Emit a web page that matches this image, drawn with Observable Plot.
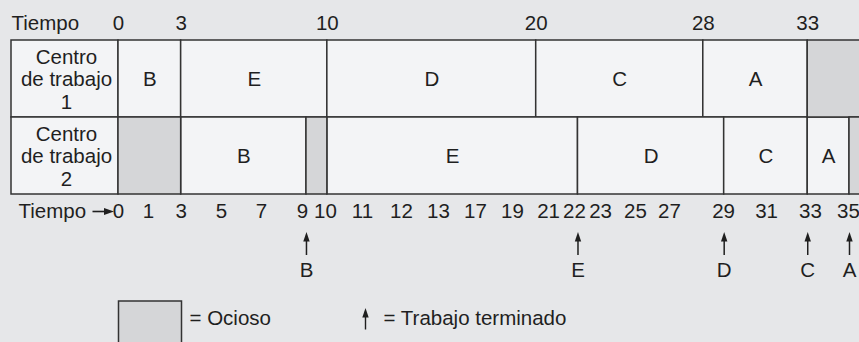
<!DOCTYPE html>
<html><head><meta charset="utf-8">
<script src="https://cdn.jsdelivr.net/npm/d3@7"></script>
<script src="https://cdn.jsdelivr.net/npm/@observablehq/plot@0.6"></script>
<style>
html,body{margin:0;padding:0;background:#e6e7e9;}
#chart svg{display:block;overflow:hidden;}
</style></head><body><div id="chart"></div>
<script>
// ---- data ----
const workCenters = ["Centro\nde trabajo\n1", "Centro\nde trabajo\n2"];
const wc1Jobs  = ["B", "E", "D", "C", "A", ""];      // "" = ocioso
const wc1Start = [0, 3, 10, 20, 28, 33];
const wc1End   = [3, 10, 20, 28, 33, 36];
const wc2Jobs  = ["", "B", "", "E", "D", "C", "A", ""];
const wc2Start = [0, 3, 9, 10, 22, 29, 33, 35];
const wc2End   = [3, 9, 10, 22, 29, 33, 35, 36];
const topTicks = [0, 3, 10, 20, 28, 33];
const bottomTickLabels = ["0","1","3","5","7","9","10","11","12","13","17","19","21","22","23","25","27","29","31","33","35"];
const bottomTickAt = [0, 1.44, 3, 4.93, 6.85, 8.81, 9.91, 11.68, 13.55, 15.32, 17.09, 18.86, 20.59, 21.83, 23.08, 24.75, 26.38, 28.97, 31.03, 33.13, 34.95];
const finishedJobs = ["B", "E", "D", "C", "A"];
const finishedAt = [9, 22, 29, 33, 35];
const axisLabelTop = "Tiempo";
const axisLabelBottom = "Tiempo";
const legendLabels = ["= Ocioso", "= Trabajo terminado"];

// ---- build ----
const W = 859, H = 342;
const cells = [
  ...wc1Jobs.map((j, i) => ({wc: workCenters[0], job: j, start: wc1Start[i], end: wc1End[i]})),
  ...wc2Jobs.map((j, i) => ({wc: workCenters[1], job: j, start: wc2Start[i], end: wc2End[i]}))
];
const ticksBottom = bottomTickLabels.map((t, i) => ({label: t, at: bottomTickAt[i]}));
const finished = finishedJobs.map((j, i) => ({job: j, t: finishedAt[i]}));

const INK = "#1f1f1f", LINE = "#333333", CELL = "#f3f4f6", IDLE = "#d5d6d8";
const FONT = 20.5;
const arrowHead = {draw(ctx) { ctx.moveTo(0, -4.5); ctx.lineTo(3.2, 5); ctx.lineTo(-3.2, 5); ctx.closePath(); }};
const arrowRight = {draw(ctx) { ctx.moveTo(5, 0); ctx.lineTo(-5, -3.5); ctx.lineTo(-5, 3.5); ctx.closePath(); }};
const T = {frameAnchor: "top", lineAnchor: "middle", fontSize: FONT, fill: INK};
const TL = {frameAnchor: "top-left", lineAnchor: "middle", textAnchor: "start", fontSize: FONT, fill: INK};

const plot = Plot.plot({
  width: W, height: H,
  marginTop: 0, marginRight: 0, marginBottom: 0, marginLeft: 0,
  style: {background: "#e6e7e9", fontFamily: "'Liberation Sans', Arial, Helvetica, sans-serif", fontSize: "20px", color: INK},
  x: {domain: [0, 35], range: [118, 849], axis: null},
  y: {type: "band", domain: workCenters, range: [39.5, 194.5], padding: 0, axis: null},
  marks: [
    // label column
    Plot.barX(workCenters, {x1: 0, x2: 0, y: d => d, insetLeft: -107, fill: CELL, stroke: LINE, strokeWidth: 1.5}),
    // job cells
    Plot.barX(cells, {filter: d => d.job, x1: "start", x2: "end", y: "wc", fill: CELL, stroke: LINE, strokeWidth: 1.5}),
    // idle cells
    Plot.barX(cells, {filter: d => !d.job, x1: "start", x2: "end", y: "wc", fill: IDLE, stroke: LINE, strokeWidth: 1.5}),
    // row labels
    Plot.text(workCenters, {y: d => d, text: d => d, frameAnchor: "left", dx: 66, textAnchor: "middle", lineAnchor: "middle", lineHeight: 1.1, fontSize: FONT, fill: INK}),
    // job letters
    Plot.text(cells, {filter: d => d.job, x: d => (d.start + d.end) / 2, y: "wc", text: "job", fontSize: FONT, fill: INK}),
    // top time axis
    Plot.text([axisLabelTop], {...TL, text: d => d, dx: 11, dy: 22.5}),
    Plot.text(topTicks, {...T, x: d => d, text: d => String(d), dy: 22.5}),
    // bottom time axis
    Plot.text([axisLabelBottom], {...TL, text: d => d, dx: 18, dy: 211}),
    Plot.frame({fill: INK, stroke: "none", insetLeft: 92, insetRight: W - 106, insetTop: 210.2, insetBottom: H - 211.8}),
    Plot.dot([0], {frameAnchor: "top-left", dx: 108.5, dy: 211, symbol: arrowRight, fill: INK, stroke: "none"}),
    Plot.text(ticksBottom, {...T, x: "at", text: "label", dy: 211}),
    // finished arrows
    Plot.ruleX(finished, {x: "t", insetTop: 237, insetBottom: H - 255, stroke: INK, strokeWidth: 1.5}),
    Plot.dot(finished, {x: "t", frameAnchor: "top", dy: 236, symbol: arrowHead, fill: INK, stroke: "none"}),
    Plot.text(finished, {...T, x: "t", text: "job", dy: 270}),
    // legend: idle box
    Plot.frame({fill: IDLE, stroke: LINE, strokeWidth: 1.5, insetLeft: 118, insetRight: W - 181, insetTop: 300.5, insetBottom: -4}),
    Plot.text([legendLabels[0]], {...TL, text: d => d, dx: 189, dy: 317.5}),
    // legend: finished arrow
    Plot.frame({fill: INK, stroke: "none", insetLeft: 364.3, insetRight: W - 365.7, insetTop: 311, insetBottom: H - 329}),
    Plot.dot([0], {frameAnchor: "top-left", dx: 365, dy: 312, symbol: arrowHead, fill: INK, stroke: "none"}),
    Plot.text([legendLabels[1]], {...TL, text: d => d, dx: 383, dy: 317.5})
  ]
});
document.getElementById("chart").appendChild(plot);
</script>
</body></html>
